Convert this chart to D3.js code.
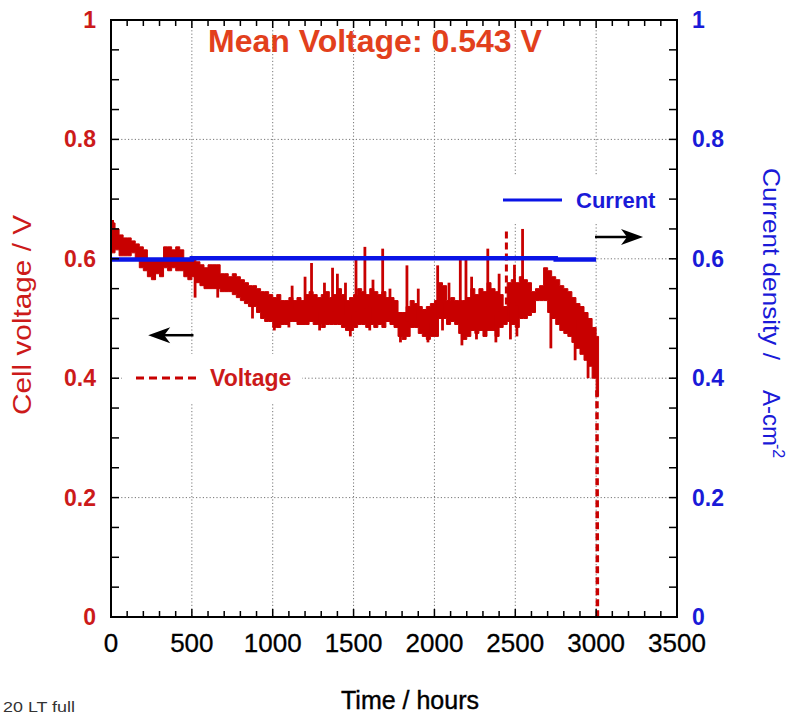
<!DOCTYPE html>
<html><head><meta charset="utf-8">
<script src="https://cdn.jsdelivr.net/npm/d3@7"></script>
<style>
html,body{margin:0;padding:0;background:#fff;}
svg{display:block;font-family:"Liberation Sans",Arial,sans-serif;}
</style></head>
<body><svg id="chart" width="792" height="717"></svg>
<script>
// ---- data ----
const xTicks = [0, 500, 1000, 1500, 2000, 2500, 3000, 3500];
const yTicks = [0, 0.2, 0.4, 0.6, 0.8, 1];
const yTickLabels = ["0", "0.2", "0.4", "0.6", "0.8", "1"];

// voltage envelope sampled every 25 h (hours 0..3000)
const voltHours = [0,25,50,75,100,125,150,175,200,225,250,275,300,325,350,375,400,425,450,475,
 500,525,550,575,600,625,650,675,700,725,750,775,800,825,850,875,900,925,950,975,
 1000,1025,1050,1075,1100,1125,1150,1175,1200,1225,1250,1275,1300,1325,1350,1375,1400,1425,1450,1475,
 1500,1525,1550,1575,1600,1625,1650,1675,1700,1725,1750,1775,1800,1825,1850,1875,1900,1925,1950,1975,
 2000,2025,2050,2075,2100,2125,2150,2175,2200,2225,2250,2275,2300,2325,2350,2375,2400,2425,2450,2475,
 2500,2525,2550,2575,2600,2625,2650,2675,2700,2725,2750,2775,2800,2825,2850,2875,2900,2925,2950,2975,
 3000,3015];
const voltLow = [0.61,0.615,0.605,0.605,0.605,0.61,0.60,0.585,0.58,0.57,0.565,0.575,0.57,0.585,0.58,0.585,0.58,0.58,0.57,0.565,
 0.57,0.56,0.555,0.55,0.55,0.55,0.55,0.545,0.545,0.545,0.54,0.535,0.53,0.525,0.52,0.52,0.51,0.50,0.495,0.495,
 0.485,0.485,0.49,0.49,0.495,0.495,0.49,0.49,0.49,0.495,0.49,0.49,0.485,0.49,0.49,0.49,0.49,0.485,0.48,0.48,
 0.485,0.49,0.49,0.485,0.49,0.485,0.49,0.485,0.495,0.49,0.485,0.47,0.465,0.47,0.485,0.485,0.475,0.47,0.465,0.47,
 0.47,0.50,0.50,0.49,0.495,0.49,0.475,0.465,0.47,0.48,0.475,0.48,0.47,0.48,0.48,0.47,0.485,0.49,0.495,0.49,
 0.485,0.50,0.50,0.505,0.51,0.53,0.53,0.53,0.51,0.50,0.49,0.48,0.475,0.47,0.46,0.45,0.44,0.43,0.42,0.40,
 0.37,0.37];
const voltHigh = [0.66,0.65,0.64,0.635,0.635,0.63,0.625,0.62,0.615,0.60,0.60,0.60,0.60,0.62,0.62,0.615,0.62,0.615,0.60,0.60,
 0.60,0.595,0.59,0.585,0.59,0.59,0.59,0.575,0.575,0.57,0.575,0.57,0.565,0.56,0.555,0.555,0.55,0.545,0.545,0.54,
 0.535,0.54,0.53,0.53,0.535,0.53,0.535,0.53,0.54,0.545,0.54,0.535,0.54,0.545,0.535,0.54,0.55,0.54,0.53,0.535,
 0.54,0.55,0.545,0.54,0.55,0.545,0.54,0.545,0.535,0.535,0.53,0.51,0.51,0.52,0.53,0.525,0.52,0.515,0.52,0.525,
 0.53,0.56,0.555,0.53,0.535,0.53,0.53,0.53,0.535,0.55,0.54,0.55,0.545,0.56,0.55,0.545,0.54,0.52,0.56,0.565,
 0.56,0.57,0.565,0.56,0.545,0.55,0.555,0.585,0.58,0.57,0.565,0.555,0.55,0.545,0.535,0.525,0.52,0.51,0.50,0.485,
 0.47,0.47];

// isolated voltage spikes (hours, volts)
const spikeHours = [10, 270, 520, 660, 875, 1010, 1100, 1120, 1200, 1240, 1290, 1320, 1370, 1400, 1450, 1480, 1515, 1570, 1600, 1620,
  1680, 1725, 1790, 1830, 1900, 1960, 2020, 2050, 2090, 2160, 2170, 2195, 2230, 2260, 2330, 2380, 2400, 2470, 2495, 2510, 2545, 2720, 2870, 2950];
const spikeVolts = [0.665, 0.565, 0.535, 0.535, 0.50, 0.48, 0.485, 0.555, 0.57, 0.593, 0.48, 0.56, 0.585, 0.575, 0.56, 0.47, 0.60, 0.62, 0.48, 0.565,
  0.617, 0.55, 0.46, 0.589, 0.55, 0.46, 0.589, 0.48, 0.56, 0.60, 0.455, 0.60, 0.57, 0.465, 0.617, 0.46, 0.575, 0.465, 0.59, 0.47, 0.65, 0.45, 0.43, 0.40];
const dashedSpikeHours = [2445];
const dashedSpikeVolts = [0.652];

// final failure drop
const dropHours = [3005, 3008];
const dropVolts = [0.38, 0.0];

// current density
const currentHours = [0, 450, 500, 1000, 1500, 2000, 2500, 2750, 3000];
const currentVals  = [0.599, 0.599, 0.601, 0.601, 0.601, 0.601, 0.601, 0.599, 0.599];

const meanVoltage = "0.543";

// ---- chart ----
const svg = d3.select("#chart");
const x = d3.scaleLinear().domain([0, 3500]).range([111, 677]);
const y = d3.scaleLinear().domain([0, 1]).range([617, 20]);
const yR = d3.scaleLinear().domain([0, 1]).range([617, 20]);

const RED = "#c80000", RED_T = "#cc1a1a", BLUE = "#0a14e6", BLUE_T = "#1a1ad8";

// gridlines
const grid = svg.append("g").attr("stroke", "#777").attr("stroke-width", 1).attr("stroke-dasharray", "1.2,2.2");
xTicks.slice(1, -1).forEach(t => grid.append("line").attr("x1", x(t)).attr("x2", x(t)).attr("y1", y(1)).attr("y2", y(0)));
yTicks.slice(1, -1).forEach(v => grid.append("line").attr("x1", x(0)).attr("x2", x(3500)).attr("y1", y(v)).attr("y2", y(v)));

// legend backgrounds (white boxes hide gridlines)
svg.append("rect").attr("x", 122).attr("y", 354).attr("width", 180).attr("height", 48).attr("fill", "#fff");
svg.append("rect").attr("x", 490).attr("y", 176).attr("width", 180).attr("height", 47).attr("fill", "#fff");

// voltage band
const vData = voltHours.map((t, i) => ({t, lo: voltLow[i], hi: voltHigh[i]}));
svg.append("path").datum(vData)
  .attr("d", d3.area().x(d => x(d.t)).y0(d => y(d.lo)).y1(d => y(d.hi)).curve(d3.curveStepAfter))
  .attr("fill", RED).attr("stroke", RED).attr("stroke-width", 1);

// spikes
const vMid = t => { let i = d3.bisectRight(voltHours, t) - 1; i = Math.max(0, i); return (voltLow[i] + voltHigh[i]) / 2; };
svg.append("g").selectAll("line").data(spikeHours.map((t, i) => ({t, v: spikeVolts[i]}))).join("line")
  .attr("x1", d => x(d.t)).attr("x2", d => x(d.t))
  .attr("y1", d => y(vMid(d.t))).attr("y2", d => y(d.v))
  .attr("stroke", RED).attr("stroke-width", 2.8);
svg.append("g").selectAll("line").data(dashedSpikeHours.map((t, i) => ({t, v: dashedSpikeVolts[i]}))).join("line")
  .attr("x1", d => x(d.t)).attr("x2", d => x(d.t))
  .attr("y1", d => y(vMid(d.t))).attr("y2", d => y(d.v))
  .attr("stroke", RED).attr("stroke-width", 3).attr("stroke-dasharray", "7,4");

// drop
svg.append("path").datum(dropHours.map((t, i) => ({t, v: dropVolts[i]})))
  .attr("d", d3.line().x(d => x(d.t)).y(d => y(d.v)))
  .attr("fill", "none").attr("stroke", RED).attr("stroke-width", 3.5).attr("stroke-dasharray", "7,4");

// current
svg.append("path").datum(currentHours.map((t, i) => ({t, v: currentVals[i]})))
  .attr("d", d3.line().x(d => x(d.t)).y(d => yR(d.v)).curve(d3.curveStepAfter))
  .attr("fill", "none").attr("stroke", BLUE).attr("stroke-width", 4.5);

// frame
svg.append("rect").attr("x", x(0)).attr("y", y(1)).attr("width", x(3500) - x(0)).attr("height", y(0) - y(1))
  .attr("fill", "none").attr("stroke", "#000").attr("stroke-width", 2);

// ticks
const tk = svg.append("g").attr("stroke", "#000").attr("stroke-width", 1.5);
d3.range(0, 3501, 100).forEach(t => {
  const L = t % 500 === 0 ? 8 : 6;
  tk.append("line").attr("x1", x(t)).attr("x2", x(t)).attr("y1", y(0)).attr("y2", y(0) - L);
  tk.append("line").attr("x1", x(t)).attr("x2", x(t)).attr("y1", y(1)).attr("y2", y(1) + L);
});
d3.range(0, 21).map(i => i * 0.05).forEach(v => {
  tk.append("line").attr("x1", x(0)).attr("x2", x(0) + 8).attr("y1", y(v)).attr("y2", y(v));
  tk.append("line").attr("x1", x(3500)).attr("x2", x(3500) - 8).attr("y1", yR(v)).attr("y2", yR(v));
});

// tick labels
svg.append("g").selectAll("text").data(xTicks).join("text")
  .attr("x", d => x(d)).attr("y", 652).attr("text-anchor", "middle")
  .attr("font-size", 26).attr("fill", "#000").attr("stroke", "#000").attr("stroke-width", 0.3).text(d => d);
svg.append("g").selectAll("text").data(yTicks).join("text")
  .attr("x", 96).attr("y", d => y(d) + 8).attr("text-anchor", "end")
  .attr("font-size", 23).attr("font-weight", "bold").attr("fill", RED_T).text((d, i) => yTickLabels[i]);
svg.append("g").selectAll("text").data(yTicks).join("text")
  .attr("x", 692).attr("y", d => yR(d) + 8).attr("text-anchor", "start")
  .attr("font-size", 23).attr("font-weight", "bold").attr("fill", BLUE_T).text((d, i) => yTickLabels[i]);

// axis titles
svg.append("text").attr("x", 410).attr("y", 709).attr("text-anchor", "middle")
  .attr("font-size", 25).attr("fill", "#000").attr("stroke", "#000").attr("stroke-width", 0.4).text("Time / hours");
svg.append("text").attr("transform", "translate(31,315) rotate(-90)").attr("text-anchor", "middle")
  .attr("font-size", 25).attr("fill", RED_T).attr("textLength", 200).attr("lengthAdjust", "spacingAndGlyphs")
  .text("Cell voltage /  V");
const rt = svg.append("text").attr("transform", "translate(763,168) rotate(90)")
  .attr("font-size", 24).attr("fill", BLUE_T);
rt.append("tspan").attr("x", 0).attr("y", 0).attr("textLength", 192).attr("lengthAdjust", "spacingAndGlyphs").text("Current density /");
rt.append("tspan").attr("x", 222).attr("y", 0).text("A-cm");
rt.append("tspan").attr("x", 276).attr("y", -10).attr("font-size", 16).text("-2");

svg.append("text").attr("x", 3).attr("y", 712).attr("font-size", 15).attr("fill", "#333")
  .attr("textLength", 72).attr("lengthAdjust", "spacingAndGlyphs").text("20 LT full");

// title
svg.append("text").attr("x", 208).attr("y", 52).attr("font-size", 32).attr("font-weight", "bold")
  .attr("fill", "#e2401c").text("Mean Voltage: " + meanVoltage + " V");

// legends
svg.append("line").attr("x1", 503).attr("x2", 562).attr("y1", 200).attr("y2", 200).attr("stroke", BLUE).attr("stroke-width", 3);
svg.append("text").attr("x", 576).attr("y", 208).attr("font-size", 22).attr("font-weight", "bold").attr("fill", BLUE_T).text("Current");
svg.append("line").attr("x1", 136).attr("x2", 197).attr("y1", 378).attr("y2", 378).attr("stroke", RED).attr("stroke-width", 3).attr("stroke-dasharray", "8,5");
svg.append("text").attr("x", 210).attr("y", 386).attr("font-size", 23).attr("font-weight", "bold").attr("fill", RED_T).text("Voltage");

// arrows (positioned in data space)
function arrow(t0, t1, v) {
  const xs = x(t0), xe = x(t1), yy = y(v), dir = Math.sign(xe - xs);
  svg.append("line").attr("x1", xs).attr("x2", xe - dir * 14).attr("y1", yy).attr("y2", yy).attr("stroke", "#000").attr("stroke-width", 2.5);
  svg.append("path").attr("d", `M${xe},${yy} L${xe - dir * 22},${yy - 8} L${xe - dir * 16},${yy} L${xe - dir * 22},${yy + 8} Z`).attr("fill", "#000");
}
arrow(510, 230, 0.472);
arrow(2993, 3290, 0.6365);
</script></body></html>
